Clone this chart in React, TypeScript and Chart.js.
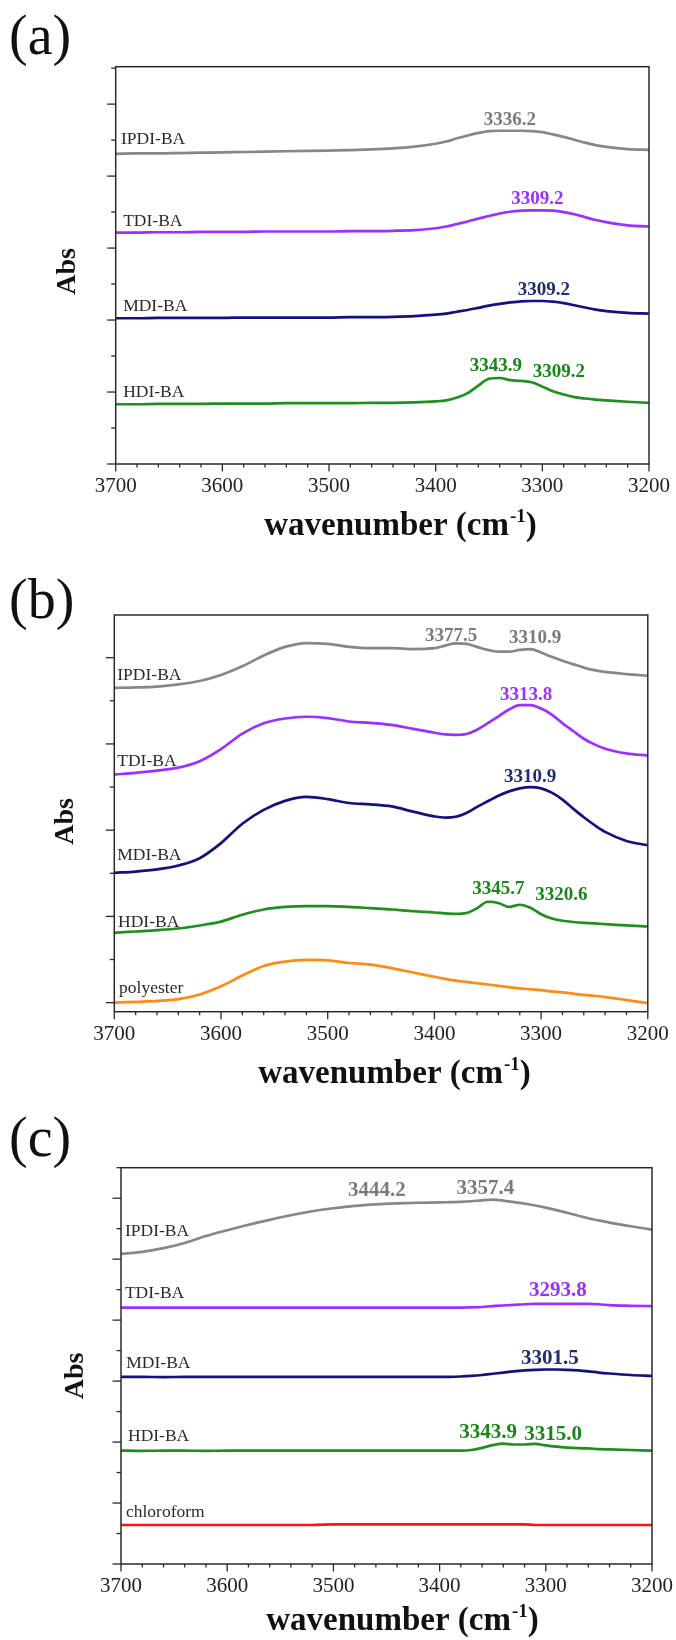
import React, { useEffect, useRef } from 'react';
import { Chart, registerables } from 'chart.js';

Chart.register(...registerables);

const SERIF = "'Liberation Serif', 'Times New Roman', serif";

// ---------- data ----------
// wavenumber grid (cm-1), shared by every spectrum
const wavenumbers = [3700, 3680, 3660, 3640, 3620, 3600, 3580, 3560, 3540, 3520, 3500, 3480, 3460, 3440, 3420,
  3400, 3390, 3380, 3370, 3360, 3350, 3340, 3330, 3320, 3310, 3300, 3290, 3280, 3270, 3260, 3250,
  3240, 3220, 3200];
const xTickLabels = [3700, 3600, 3500, 3400, 3300, 3200];

// panel (a)
const aIPDI = [8.62, 8.63, 8.63, 8.64, 8.65, 8.66, 8.67, 8.68, 8.69, 8.70, 8.71, 8.72, 8.74, 8.77, 8.82,
  8.90, 8.96, 9.05, 9.13, 9.20, 9.25, 9.26, 9.26, 9.26, 9.25, 9.22, 9.16, 9.09, 9.01, 8.93, 8.86,
  8.81, 8.75, 8.73];
const aTDI = [6.43, 6.43, 6.44, 6.44, 6.45, 6.45, 6.45, 6.46, 6.46, 6.46, 6.46, 6.47, 6.47, 6.48, 6.50,
  6.55, 6.60, 6.67, 6.74, 6.82, 6.89, 6.96, 7.01, 7.04, 7.05, 7.05, 7.04, 7.00, 6.94, 6.86, 6.78,
  6.72, 6.63, 6.60];
const aMDI = [4.05, 4.05, 4.06, 4.06, 4.06, 4.06, 4.07, 4.07, 4.07, 4.07, 4.07, 4.08, 4.08, 4.09, 4.11,
  4.15, 4.18, 4.23, 4.28, 4.34, 4.40, 4.45, 4.49, 4.52, 4.53, 4.53, 4.51, 4.47, 4.41, 4.35, 4.29,
  4.25, 4.20, 4.18];
const aHDI = [1.66, 1.66, 1.67, 1.67, 1.67, 1.68, 1.68, 1.68, 1.69, 1.69, 1.69, 1.69, 1.70, 1.70, 1.71,
  1.74, 1.77, 1.85, 1.97, 2.18, 2.37, 2.39, 2.33, 2.31, 2.27, 2.15, 2.02, 1.93, 1.86, 1.82, 1.79,
  1.77, 1.73, 1.70];

// panel (b)
const bIPDI = [7.30, 7.31, 7.33, 7.38, 7.46, 7.60, 7.80, 8.05, 8.25, 8.34, 8.32, 8.25, 8.22, 8.22, 8.20,
  8.22, 8.28, 8.33, 8.32, 8.25, 8.18, 8.14, 8.14, 8.18, 8.20, 8.12, 8.02, 7.93, 7.85, 7.77, 7.71,
  7.67, 7.62, 7.58];
const bTDI = [5.29, 5.33, 5.38, 5.45, 5.60, 5.88, 6.24, 6.48, 6.59, 6.63, 6.60, 6.52, 6.49, 6.44, 6.35,
  6.26, 6.22, 6.21, 6.23, 6.33, 6.48, 6.64, 6.80, 6.90, 6.90, 6.82, 6.68, 6.48, 6.30, 6.12, 5.99,
  5.89, 5.78, 5.73];
const bMDI = [3.01, 3.04, 3.09, 3.18, 3.35, 3.70, 4.15, 4.47, 4.68, 4.77, 4.72, 4.63, 4.60, 4.55, 4.43,
  4.32, 4.29, 4.31, 4.40, 4.54, 4.67, 4.80, 4.90, 4.97, 5.00, 4.97, 4.87, 4.71, 4.50, 4.30, 4.12,
  3.96, 3.75, 3.65];
const bHDI = [1.62, 1.65, 1.68, 1.72, 1.79, 1.88, 2.04, 2.16, 2.22, 2.24, 2.24, 2.22, 2.19, 2.16, 2.12,
  2.09, 2.07, 2.06, 2.08, 2.19, 2.34, 2.31, 2.22, 2.27, 2.20, 2.05, 1.95, 1.90, 1.87, 1.85, 1.84,
  1.82, 1.79, 1.77];
const bPolyester = [0.00, 0.02, 0.04, 0.08, 0.19, 0.38, 0.63, 0.85, 0.95, 0.99, 0.98, 0.92, 0.88, 0.80, 0.70,
  0.60, 0.55, 0.51, 0.48, 0.45, 0.42, 0.39, 0.36, 0.33, 0.31, 0.29, 0.26, 0.24, 0.21, 0.18, 0.16,
  0.13, 0.06, -0.01];

// panel (c)
const cIPDI = [10.17, 10.24, 10.36, 10.53, 10.76, 10.95, 11.13, 11.29, 11.44, 11.57, 11.67, 11.75, 11.80, 11.83, 11.85,
  11.86, 11.87, 11.88, 11.90, 11.93, 11.95, 11.92, 11.87, 11.82, 11.76, 11.69, 11.61, 11.52, 11.43, 11.34, 11.27,
  11.20, 11.08, 10.97];
const cTDI = [8.41, 8.41, 8.41, 8.41, 8.41, 8.41, 8.41, 8.41, 8.41, 8.41, 8.41, 8.41, 8.41, 8.41, 8.41,
  8.41, 8.41, 8.41, 8.42, 8.43, 8.46, 8.48, 8.50, 8.52, 8.53, 8.53, 8.53, 8.53, 8.53, 8.53, 8.52,
  8.49, 8.47, 8.46];
const cMDI = [6.14, 6.14, 6.13, 6.14, 6.14, 6.14, 6.14, 6.14, 6.14, 6.14, 6.14, 6.14, 6.14, 6.14, 6.14,
  6.14, 6.14, 6.15, 6.17, 6.20, 6.24, 6.28, 6.32, 6.35, 6.37, 6.38, 6.38, 6.37, 6.35, 6.32, 6.28,
  6.25, 6.20, 6.17];
const cHDI = [3.72, 3.71, 3.72, 3.72, 3.71, 3.72, 3.72, 3.72, 3.72, 3.72, 3.72, 3.72, 3.72, 3.72, 3.72,
  3.72, 3.72, 3.72, 3.74, 3.81, 3.90, 3.95, 3.92, 3.92, 3.94, 3.89, 3.85, 3.82, 3.80, 3.79, 3.77,
  3.76, 3.74, 3.72];
const cChloroform = [1.28, 1.28, 1.28, 1.28, 1.28, 1.28, 1.28, 1.28, 1.28, 1.28, 1.30, 1.30, 1.30, 1.30, 1.30,
  1.30, 1.30, 1.30, 1.30, 1.30, 1.30, 1.30, 1.30, 1.30, 1.28, 1.28, 1.28, 1.28, 1.28, 1.28, 1.28,
  1.28, 1.28, 1.28];

// series names and peak labels (anchored in data coordinates: wavenumber, Abs)
const aNames = [
  { text: 'IPDI-BA', w: 3695, v: 8.89 },
  { text: 'TDI-BA', w: 3693, v: 6.62 },
  { text: 'MDI-BA', w: 3693, v: 4.26 },
  { text: 'HDI-BA', w: 3693, v: 1.87 },
];
const aPeaks = [
  { text: '3336.2', w: 3330.4, v: 9.42, s: 'gray' },
  { text: '3309.2', w: 3304.6, v: 7.22, s: 'purple' },
  { text: '3309.2', w: 3298.5, v: 4.69, s: 'navy' },
  { text: '3343.9', w: 3343.5, v: 2.59, s: 'green' },
  { text: '3309.2', w: 3284.4, v: 2.41, s: 'green' },
];
const bNames = [
  { text: 'IPDI-BA', w: 3697.2, v: 7.49 },
  { text: 'TDI-BA', w: 3697.2, v: 5.49 },
  { text: 'MDI-BA', w: 3697.2, v: 3.31 },
  { text: 'HDI-BA', w: 3696.5, v: 1.76 },
  { text: 'polyester', w: 3695.5, v: 0.22 },
];
const bPeaks = [
  { text: '3377.5', w: 3384.4, v: 8.39, s: 'gray' },
  { text: '3310.9', w: 3305.6, v: 8.33, s: 'gray' },
  { text: '3313.8', w: 3314.0, v: 7.01, s: 'purple' },
  { text: '3310.9', w: 3310.3, v: 5.12, s: 'navy' },
  { text: '3345.7', w: 3340.0, v: 2.51, s: 'green' },
  { text: '3320.6', w: 3281.0, v: 2.39, s: 'green' },
];
const cNames = [
  { text: 'IPDI-BA', w: 3696.3, v: 10.77 },
  { text: 'TDI-BA', w: 3696.3, v: 8.71 },
  { text: 'MDI-BA', w: 3695.0, v: 6.43 },
  { text: 'HDI-BA', w: 3693.4, v: 4.02 },
  { text: 'chloroform', w: 3695.3, v: 1.55 },
];
const cPeaks = [
  { text: '3444.2', w: 3459.1, v: 12.08, s: 'gray' },
  { text: '3357.4', w: 3357.0, v: 12.15, s: 'gray' },
  { text: '3293.8', w: 3288.6, v: 8.78, s: 'purple' },
  { text: '3301.5', w: 3296.1, v: 6.57, s: 'navy' },
  { text: '3343.9', w: 3354.2, v: 4.13, s: 'green' },
  { text: '3315.0', w: 3293.2, v: 4.08, s: 'green' },
];

// ---------- styles ----------
const LINE: Record<string, string> = {
  gray: '#878787', purple: '#9b30ff', navy: '#12127e', green: '#1f8f1f', orange: '#ff8a14', red: '#ff1414',
};
const TEXT: Record<string, string> = {
  gray: '#7a7a7a', purple: '#9b30ff', navy: '#1f2f6e', green: '#178717',
};

type Panel = {
  key: string; tag: string; top: number; height: number;
  left: number; right: number; plotTop: number; plotBottom: number;
  yMin: number; yMax: number;
  series: { values: number[]; s: string }[];
  names: { text: string; w: number; v: number }[];
  peaks: { text: string; w: number; v: number; s: string }[];
  peakFont: number; tagBase: number; absX: number; absY: number; titleX: number; titleBase: number;
};

const panels: Panel[] = [
  {
    key: 'a', tag: '(a)', top: 0, height: 545, left: 115.7, right: 649, plotTop: 66.7, plotBottom: 464,
    yMin: 0, yMax: 11.04,
    series: [{ values: aIPDI, s: 'gray' }, { values: aTDI, s: 'purple' }, { values: aMDI, s: 'navy' }, { values: aHDI, s: 'green' }],
    names: aNames, peaks: aPeaks, peakFont: 19,
    tagBase: 53.5, absX: 67.5, absY: 271.5, titleX: 400, titleBase: 535,
  },
  {
    key: 'b', tag: '(b)', top: 545, height: 555, left: 114.3, right: 647.8, plotTop: 615, plotBottom: 1011.7,
    yMin: -0.21, yMax: 8.99,
    series: [{ values: bIPDI, s: 'gray' }, { values: bTDI, s: 'purple' }, { values: bMDI, s: 'navy' }, { values: bHDI, s: 'green' }, { values: bPolyester, s: 'orange' }],
    names: bNames, peaks: bPeaks, peakFont: 19,
    tagBase: 618, absX: 65.6, absY: 821.5, titleX: 394, titleBase: 1083,
  },
  {
    key: 'c', tag: '(c)', top: 1100, height: 540, left: 121, right: 654.5, plotTop: 1167.7, plotBottom: 1564,
    yMin: 0, yMax: 13,
    series: [{ values: cIPDI, s: 'gray' }, { values: cTDI, s: 'purple' }, { values: cMDI, s: 'navy' }, { values: cHDI, s: 'green' }, { values: cChloroform, s: 'red' }],
    names: cNames, peaks: cPeaks, peakFont: 21,
    tagBase: 1156, absX: 76, absY: 1376, titleX: 402, titleBase: 1630,
  },
];

function decorPlugin(p: Panel) {
  return {
    id: 'decor_' + p.key,
    afterDraw(chart: any) {
      const { ctx, chartArea } = chart;
      const { left, right, top, bottom } = chartArea;
      const xs = chart.scales.x;
      const ys = chart.scales.y;
      ctx.save();
      // frame
      ctx.strokeStyle = '#2a2a2a';
      ctx.lineWidth = 1.5;
      ctx.strokeRect(left, top, right - left, bottom - top);
      // y ticks (major every 2, minor every 1), no labels
      ctx.lineWidth = 1.3;
      for (let v = Math.ceil(p.yMin); v <= p.yMax + 1e-6; v++) {
        const py = ys.getPixelForValue(v);
        const len = v % 2 === 0 ? 8.5 : 4.5;
        ctx.beginPath();
        ctx.moveTo(left - len, py);
        ctx.lineTo(left, py);
        ctx.stroke();
      }
      // x ticks (major every 100, minor every 20)
      for (let w = 3200; w <= 3700; w += 20) {
        const px = xs.getPixelForValue(w);
        const len = w % 100 === 0 ? 7.5 : 3.5;
        ctx.beginPath();
        ctx.moveTo(px, bottom);
        ctx.lineTo(px, bottom + len);
        ctx.stroke();
      }
      // series names
      ctx.fillStyle = '#2b2b2b';
      ctx.font = `17.5px ${SERIF}`;
      ctx.textAlign = 'left';
      ctx.textBaseline = 'alphabetic';
      for (const n of p.names) {
        ctx.fillText(n.text, xs.getPixelForValue(n.w), ys.getPixelForValue(n.v));
      }
      // peak labels
      ctx.font = `bold ${p.peakFont}px ${SERIF}`;
      ctx.textAlign = 'center';
      for (const k of p.peaks) {
        ctx.fillStyle = TEXT[k.s];
        ctx.fillText(k.text, xs.getPixelForValue(k.w), ys.getPixelForValue(k.v));
      }
      // panel tag
      ctx.fillStyle = '#111';
      ctx.textAlign = 'left';
      ctx.font = `56px ${SERIF}`;
      ctx.fillText(p.tag, 9, p.tagBase - p.top);
      // y axis title
      ctx.save();
      ctx.translate(p.absX, p.absY - p.top);
      ctx.rotate(-Math.PI / 2);
      ctx.font = `bold 28px ${SERIF}`;
      ctx.textAlign = 'center';
      ctx.textBaseline = 'middle';
      ctx.fillText('Abs', 0, 0);
      ctx.restore();
      // x axis title with superscript
      ctx.textAlign = 'left';
      ctx.textBaseline = 'alphabetic';
      const main = 'wavenumber (cm';
      const sup = '-1';
      const close = ')';
      ctx.font = `bold 33px ${SERIF}`;
      const w1 = ctx.measureText(main).width;
      const w3 = ctx.measureText(close).width;
      ctx.font = `bold 19px ${SERIF}`;
      const w2 = ctx.measureText(sup).width;
      const start = p.titleX - (w1 + w2 + w3) / 2;
      const base = p.titleBase - p.top;
      ctx.font = `bold 33px ${SERIF}`;
      ctx.fillText(main, start, base);
      ctx.font = `bold 19px ${SERIF}`;
      ctx.fillText(sup, start + w1 + 1, base - 13);
      ctx.font = `bold 33px ${SERIF}`;
      ctx.fillText(close, start + w1 + w2 + 1, base);
      ctx.restore();
    },
  };
}

function PanelChart({ p }: { p: Panel }) {
  const ref = useRef<HTMLCanvasElement | null>(null);
  useEffect(() => {
    if (!ref.current) return;
    const axisH = p.height - (p.plotBottom - p.top);
    const chart = new Chart(ref.current, {
      type: 'line',
      data: {
        datasets: p.series.map((sr) => ({
          data: wavenumbers.map((w, i) => ({ x: w, y: sr.values[i] })),
          borderColor: LINE[sr.s],
          borderWidth: 2.7,
          pointRadius: 0,
          fill: false,
          cubicInterpolationMode: 'monotone' as const,
        })),
      },
      options: {
        responsive: false,
        animation: false,
        devicePixelRatio: 1,
        events: [],
        layout: { padding: { left: p.left, right: 676 - p.right, top: p.plotTop - p.top, bottom: 0 } },
        plugins: { legend: { display: false }, tooltip: { enabled: false }, title: { display: false } },
        scales: {
          x: {
            type: 'linear',
            reverse: true,
            min: 3200,
            max: 3700,
            afterFit: (s: any) => { s.height = axisH; },
            afterBuildTicks: (s: any) => { s.ticks = xTickLabels.map((v) => ({ value: v })); },
            ticks: {
              callback: (v: any) => String(v),
              font: { family: SERIF, size: 21 },
              color: '#222',
              padding: 3,
              maxRotation: 0,
              autoSkip: false,
            },
            grid: { display: false, drawTicks: true, tickLength: 7 },
            border: { display: false },
          },
          y: { type: 'linear', display: false, min: p.yMin, max: p.yMax },
        },
      },
      plugins: [decorPlugin(p)],
    } as any);
    return () => chart.destroy();
  }, [p]);
  return (
    <canvas
      ref={ref}
      width={676}
      height={p.height}
      style={{ position: 'absolute', left: 0, top: p.top, width: 676, height: p.height }}
    />
  );
}

export default function App() {
  return (
    <div style={{ position: 'absolute', left: 0, top: 0, width: 676, height: 1640, background: '#fff', overflow: 'hidden' }}>
      {panels.map((p) => <PanelChart key={p.key} p={p} />)}
    </div>
  );
}
